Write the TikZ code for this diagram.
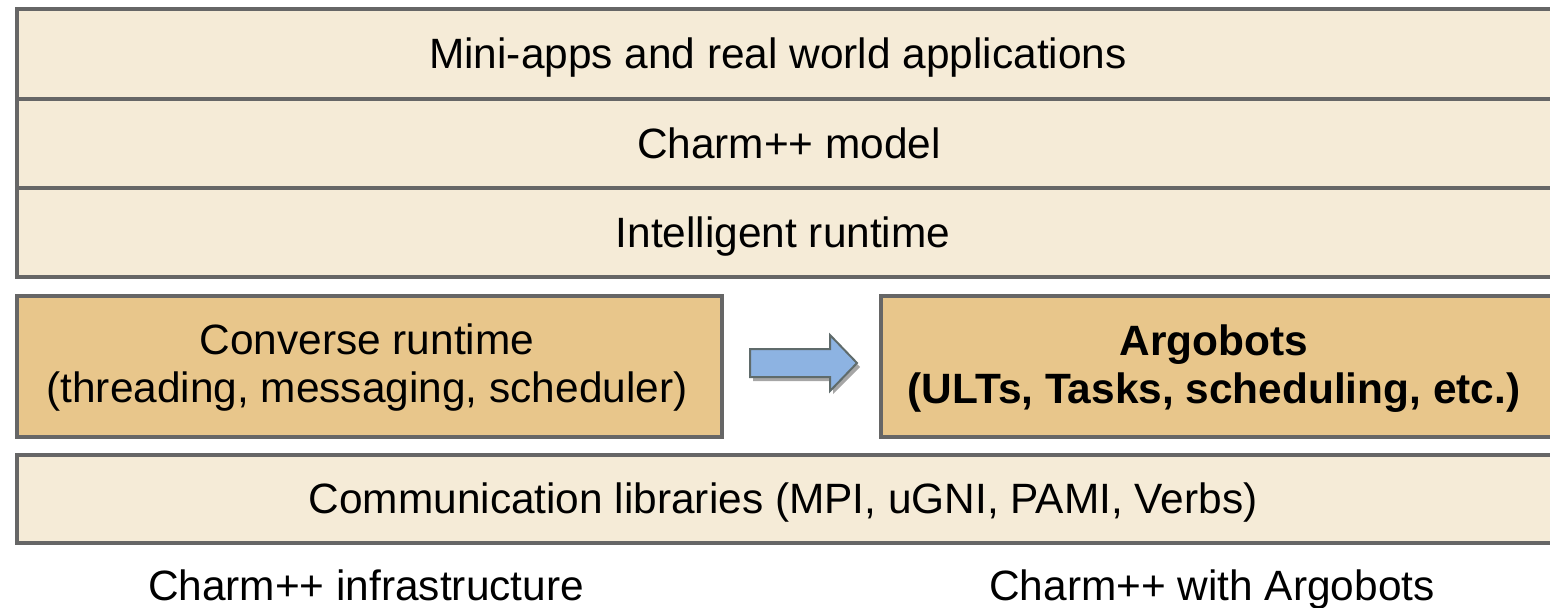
\documentclass[tikz,border=0pt]{standalone}
\usepackage{fontspec}
\setmainfont{Liberation Sans}
\definecolor{boxgray}{HTML}{666666}
\definecolor{lightfill}{HTML}{F5EBD7}
\definecolor{darkfill}{HTML}{E8C68B}
\definecolor{arrowfill}{HTML}{8DB3E2}
\definecolor{arrowline}{HTML}{5F6B6B}
\definecolor{shadowgray}{HTML}{A6A6A6}
\begin{document}
\begin{tikzpicture}[x=0.5pt,y=-0.5pt,
  layer/.style={draw=boxgray, line width=2pt, fill=lightfill, inner sep=0pt, anchor=north west},
  darklayer/.style={layer, fill=darkfill},
  caption/.style={inner sep=0pt, anchor=base, font=\fontsize{21.2}{24}\selectfont},
  boldcaption/.style={caption, font=\fontsize{21.2}{24}\selectfont\bfseries}]
\clip (0,0) rectangle (1550,607);
\useasboundingbox (0,0) rectangle (1550,607);
\node[layer, minimum width=769pt, minimum height=45pt] (apps) at (15,7) {};
\node[layer, minimum width=769pt, minimum height=44.5pt] (model) at (15,97) {};
\node[layer, minimum width=769pt, minimum height=44.5pt] (rt) at (15,186) {};
\node[darklayer, minimum width=352.5pt, minimum height=70.5pt] (conv) at (15,294) {};
\node[darklayer, minimum width=337pt, minimum height=70.5pt] (argo) at (879,294) {};
\node[layer, minimum width=769pt, minimum height=44pt] (comm) at (15,453) {};
\node[caption] (tapps) at (778,68) {Mini-apps and real world applications};
\node[caption] (tmodel) at (789,158) {Charm++ model};
\node[caption] (trt) at (783,247) {Intelligent runtime};
\node[caption] (tconva) at (367,354) {Converse runtime};
\node[caption] (tconvb) at (367,402) {(threading, messaging, scheduler)};
\node[boldcaption] (targoa) at (1214,355) {Argobots};
\node[boldcaption] (targob) at (1214,403) {(ULTs, Tasks, scheduling, etc.)};
\node[caption] (tcomm) at (783,513) {Communication libraries (MPI, uGNI, PAMI, Verbs)};
\node[caption] (linfra) at (366,600) {Charm++ infrastructure};
\node[caption] (largo) at (1212,600) {Charm++ with Argobots};
\fill[shadowgray] (753,352) -- (833,352) -- (833,338) -- (860,367) -- (833,394) -- (833,381) -- (753,381) -- cycle;
\draw[arrowline, fill=arrowfill, line width=1pt, line join=miter] (750,349) -- (830,349) -- (830,335) -- (857,363) -- (830,391) -- (830,377) -- (750,377) -- cycle;
\end{tikzpicture}
\end{document}
